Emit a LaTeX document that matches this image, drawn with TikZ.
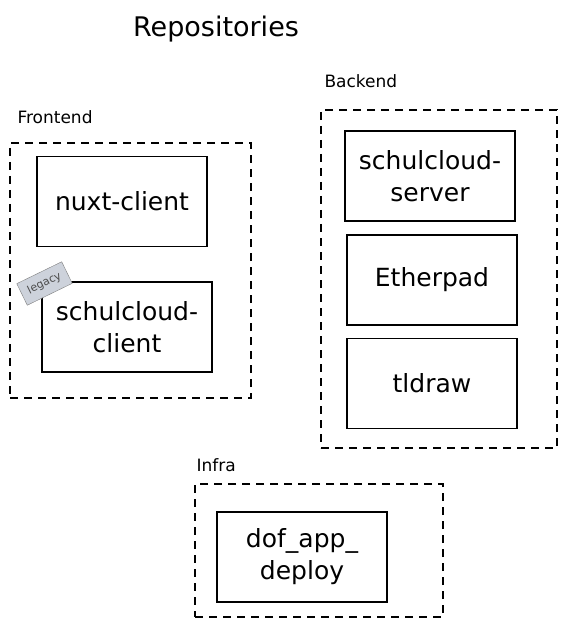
\documentclass[tikz,border=0pt]{standalone}
\usepackage{fontspec}
\setmainfont{DejaVu Sans}
\usetikzlibrary{positioning}

\definecolor{tagfill}{HTML}{CDD2DB}

\begin{document}
\begin{tikzpicture}[x=1pt,y=-1pt,
  repo/.style={rectangle,draw,line width=1.1pt,minimum width=170pt,minimum height=90pt,align=center,font=\fontsize{25}{32}\selectfont},
  group/.style={rectangle,draw,dash pattern=on 8pt off 6pt,line width=1.1pt},
  grouplabel/.style={anchor=west,font=\fontsize{17}{19}\selectfont},
  tag/.style={rectangle,draw=gray,fill=tagfill,rotate=26,minimum width=50pt,minimum height=24pt,inner sep=1pt,text=black!70,font=\fontsize{11}{12}\selectfont}]
\useasboundingbox (0,0) rectangle (567,628);

\node (title) at (216,29) {\fontsize{27}{32}\selectfont Repositories};

% frontend
\node [grouplabel] (frontendlabel) at (14,117) {Frontend};
\node [group,minimum width=241pt,minimum height=255pt] (frontend) at (130.5,270.5) {};
\node [repo] (nuxt) at (122,201.5) {nuxt-client};
\node [repo] (client) at (127,327) {schulcloud-\\client};
\node [tag] (legacy) at (44.5,283.5) {legacy};

% backend
\node [grouplabel] (backendlabel) at (321,81) {Backend};
\node [group,minimum width=236pt,minimum height=338pt] (backend) at (439,279) {};
\node [repo] (server) at (430,176) {schulcloud-\\server};
\node [repo] (etherpad) at (432,280) {Etherpad};
\node [repo] (tldraw) at (432,383.5) {tldraw};

% infra
\node [grouplabel] (infralabel) at (193,465) {Infra};
\node [group,minimum width=248pt,minimum height=133pt] (infra) at (319,550.5) {};
\node [repo] (deploy) at (302,557) {dof\_app\_\\deploy};
\end{tikzpicture}
\end{document}
